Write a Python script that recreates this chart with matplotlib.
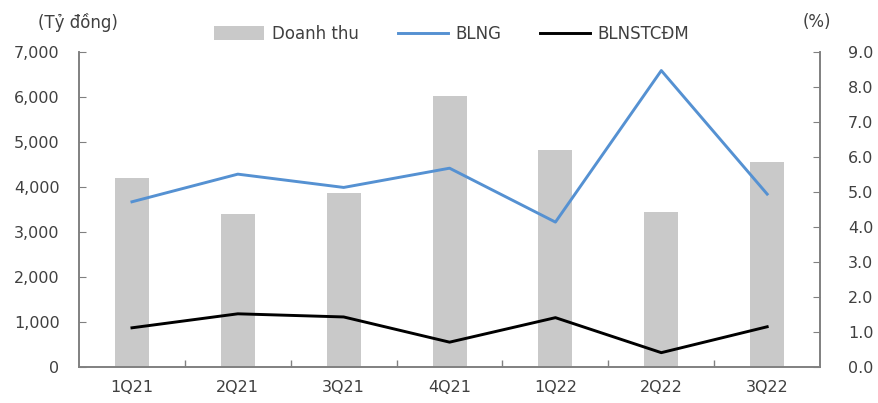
import matplotlib
matplotlib.use("Agg")
import matplotlib.pyplot as plt
from matplotlib.patches import Patch
from matplotlib.lines import Line2D

quarters = ["1Q21", "2Q21", "3Q21", "4Q21", "1Q22", "2Q22", "3Q22"]
revenue = [4200, 3390, 3870, 6020, 4820, 3450, 4550]          # Tỷ đồng
gross_margin = [4.72, 5.51, 5.13, 5.68, 4.14, 8.47, 4.94]      # BLNG, %
net_margin = [1.12, 1.52, 1.43, 0.71, 1.41, 0.41, 1.15]        # BLNSTCĐM, %

left_ticks = [0, 1000, 2000, 3000, 4000, 5000, 6000, 7000]
right_ticks = [0.0, 1.0, 2.0, 3.0, 4.0, 5.0, 6.0, 7.0, 8.0, 9.0]

text_col = "#404040"
axis_col = "#808080"
bar_col = "#C9C9C9"
blue = "#5591D2"
fs = 11.5

plt.rcParams["font.family"] = ["DejaVu Sans"]

fig = plt.figure(figsize=(8.79, 4.03), dpi=100)
ax = fig.add_axes([0.0899, 0.0893, 0.8431, 0.7817])
ax2 = ax.twinx()

x = list(range(len(quarters)))
ax.bar(x, revenue, width=0.32, color=bar_col, zorder=1)
ax2.plot(x, gross_margin, color=blue, lw=2.1, zorder=3)
ax2.plot(x, net_margin, color="black", lw=2.1, zorder=3)

ax.set_xlim(-0.5, len(quarters) - 0.5)
ax.set_ylim(0, 7000)
ax2.set_ylim(0, 9.0)

ax.set_yticks(left_ticks)
ax.set_yticklabels([f"{v:,}" for v in left_ticks])
ax2.set_yticks(right_ticks)
ax2.set_yticklabels([f"{v:.1f}" for v in right_ticks])

# category labels at centres, tick marks at category boundaries
ax.set_xticks(x)
ax.set_xticklabels(quarters)
ax.set_xticks([i + 0.5 for i in x[:-1]], minor=True)
ax.tick_params(axis="x", which="major", length=0, pad=9,
               labelsize=fs, labelcolor=text_col)
ax.tick_params(axis="x", which="minor", length=5, direction="in",
               color=axis_col, width=1)

ax.tick_params(axis="y", direction="in", length=5, color=axis_col,
               labelsize=fs, labelcolor=text_col, pad=14)
ax2.tick_params(axis="y", direction="in", length=5, color=axis_col,
                labelsize=fs, labelcolor=text_col, pad=20)

for a in (ax, ax2):
    a.spines["top"].set_visible(False)
    for s in ("left", "right", "bottom"):
        a.spines[s].set_color(axis_col)
        a.spines[s].set_linewidth(1.2)

fig.text(0.043, 0.945, "(Tỷ đồng)", fontsize=fs + 0.5, color=text_col,
         ha="left", va="center")
fig.text(0.913, 0.945, "(%)", fontsize=fs + 0.5, color=text_col,
         ha="left", va="center")

handles = [
    Patch(facecolor=bar_col, edgecolor="none"),
    Line2D([0], [0], color=blue, lw=2.1),
    Line2D([0], [0], color="black", lw=2.1),
]
labels = ["Doanh thu", "BLNG", "BLNSTCĐM"]
leg = fig.legend(handles, labels, loc="center", ncol=3,
                 bbox_to_anchor=(0.514, 0.916), frameon=False,
                 fontsize=fs + 0.5, handlelength=3.0, handleheight=0.9,
                 handletextpad=0.45, columnspacing=2.35)
for t in leg.get_texts():
    t.set_color(text_col)

fig.savefig("out.png", dpi=100)
